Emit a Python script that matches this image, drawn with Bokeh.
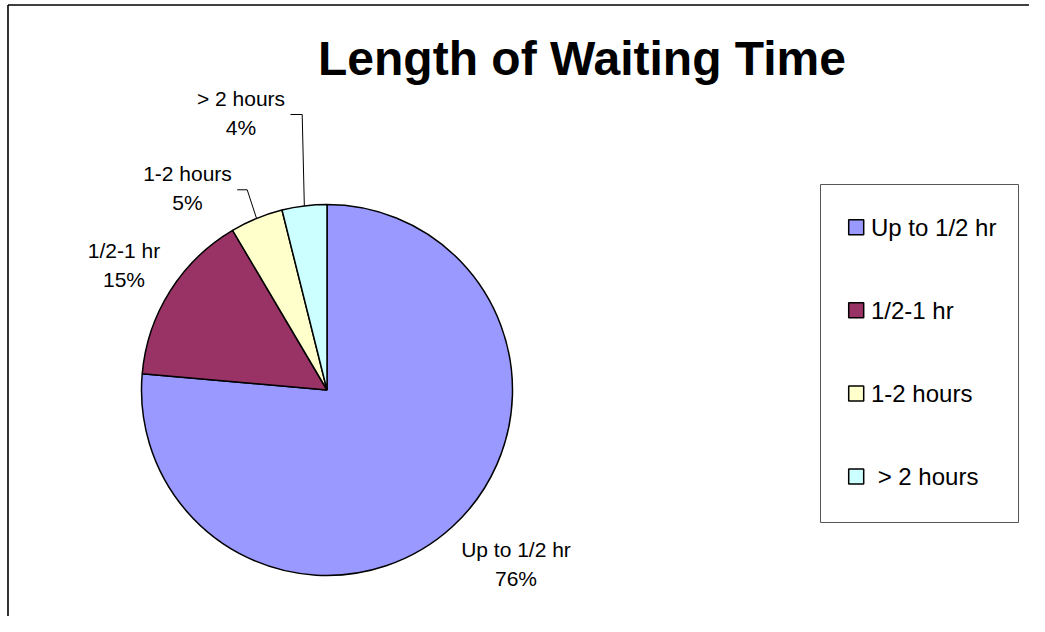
import math
from bokeh.plotting import figure
from bokeh.models import Range1d, ColumnDataSource
from bokeh.core.properties import value
from bokeh.embed import file_html
from bokeh.resources import INLINE

# ---- data ----
title = "Length of Waiting Time"
categories = ["Up to 1/2 hr", "1/2-1 hr", "1-2 hours", "> 2 hours"]
legend_labels = ["Up to 1/2 hr", "1/2-1 hr", "1-2 hours", "\u00a0> 2 hours"]
shares = [76.4, 15.1, 4.6, 3.9]
colors = ["#9999FF", "#993366", "#FFFFCC", "#CCFFFF"]

# ---- layout (pixels of the picture) ----
W, H = 1029, 616
FONT = "Liberation Sans"


def Y(py):
    return H - py


CX, CY, R = 326.5, Y(389.5), 185.5
LABEL_XY = [(515.5, 548.5), (123.5, 249.5), (187.0, 173.0), (240.5, 97.5)]
LINE_GAP = 29
LEADERS = {2: [(236.7, 189.3), (246.7, 189.3)], 3: [(290.0, 114.0), (301.7, 114.0)]}

p = figure(width=W, height=H, x_range=Range1d(0, W), y_range=Range1d(0, H),
           output_backend="svg", toolbar_location=None, min_border=0,
           x_axis_location=None, y_axis_location=None)
p.grid.visible = False
p.outline_line_color = None
p.background_fill_color = "white"
p.border_fill_color = "white"

# chart border (top and left visible)
p.segment(x0=[7.5, 7.5], y0=[Y(4.5), Y(4.5)], x1=[7.5, W], y1=[Y(H), Y(4.5)],
          line_color="black", line_width=1.6)

# pie
total = float(sum(shares))
fr = [s / total for s in shares]
cum_before = [sum(fr[:i]) for i in range(len(fr))]
starts = [math.pi / 2 - 2 * math.pi * cb for cb in cum_before]
ends = [math.pi / 2 - 2 * math.pi * (cb + f) for cb, f in zip(cum_before, fr)]
mids = [math.pi / 2 - 2 * math.pi * (cb + f / 2) for cb, f in zip(cum_before, fr)]

src = ColumnDataSource(dict(cat=categories, share=shares, color=colors, start=starts, end=ends))
p.wedge(x=CX, y=CY, radius=R, start_angle="start", end_angle="end", direction="clock",
        fill_color="color", line_color="black", line_width=1.5, source=src)

# leader lines
xs, ys = [], []
for i, pts in LEADERS.items():
    ax = CX + R * math.cos(mids[i])
    ay = CY + R * math.sin(mids[i])
    xs.append([pts[0][0], pts[1][0], ax])
    ys.append([Y(pts[0][1]), Y(pts[1][1]), ay])
p.multi_line(xs=xs, ys=ys, line_color="black", line_width=1)

# data labels
pct = [f"{round(s)}%" for s in shares]
lx = [xy[0] for xy in LABEL_XY]
p.text(x=lx, y=[Y(xy[1]) for xy in LABEL_XY], text=categories, text_align="center",
       text_baseline="middle", text_font=value(FONT), text_font_size="21px", text_color="black")
p.text(x=lx, y=[Y(xy[1] + LINE_GAP) for xy in LABEL_XY], text=pct, text_align="center",
       text_baseline="middle", text_font=value(FONT), text_font_size="21px", text_color="black")

# title
p.text(x=[581.5], y=[Y(58)], text=[title], text_align="center", text_baseline="alphabetic",
       text_font=value(FONT), text_font_size="48px", text_font_style="bold", text_color="black")

# legend
p.quad(left=[820], right=[1018], top=[Y(184)], bottom=[Y(522)], fill_color="white",
       line_color="#555555", line_width=1)
leg_y = [Y(226.7 + 83.1 * i) for i in range(len(categories))]
p.scatter(x=[855.7] * len(categories), y=leg_y, marker="square", size=15, fill_color=colors,
          line_color="black", line_width=1.5)
p.text(x=[870.5] * len(categories), y=leg_y, text=legend_labels, text_align="left",
       text_baseline="middle", text_font=value(FONT), text_font_size="24px", text_color="black")

open("out.html", "w").write(file_html(p, INLINE))
